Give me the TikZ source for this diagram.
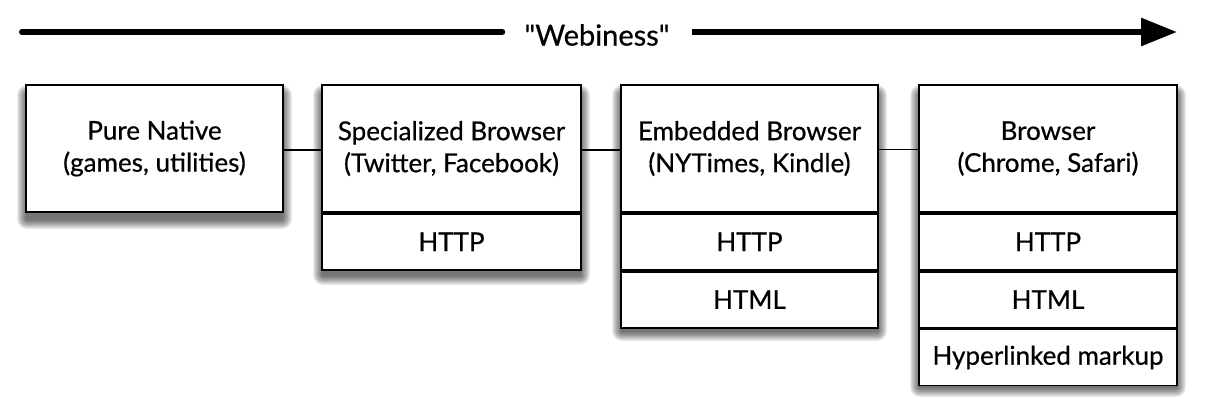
\documentclass[tikz,border=0pt]{standalone}
\usepackage{fontspec}
\setmainfont{Lato}[FakeBold=0.6]
\newfontfamily\quotefont{Lato}[FakeBold=0.6]
\usetikzlibrary{arrows.meta,positioning}
\begin{document}
\begin{tikzpicture}[x=1pt,y=-1pt,
  cell/.style={draw=black,line width=1.8pt,fill=white,minimum width=257pt,inner sep=0pt,
    font=\fontsize{26}{32}\selectfont,align=center},
  topcell/.style={cell,minimum height=127pt},
  subcell/.style={cell,minimum height=56pt},
  shadowlayer/.style={fill=black,fill opacity=0.075,draw=none},
  link/.style={draw=black,line width=1.4pt},
  bigarrow/.style={line width=6pt}
]
\useasboundingbox (0,0) rectangle (1220,412);
% arrow
\coordinate (as) at (22,32);
\coordinate (ae) at (1177,32);
\node[font=\quotefont\fontsize{29}{32}\selectfont,inner xsep=22pt,inner ysep=0pt] (w) at (597,35) {"Webiness"};
\draw[bigarrow,line cap=round] (as) -- (as -| w.west);
\draw[bigarrow,-{Triangle[length=36pt,width=27pt]}] (ae -| w.east) -- (ae);
% shadows (layered soft shadow)
\foreach \xa/\ya/\xb/\yb in {26/85/283/212, 322/85/581/268, 621/85/878/324, 919/85/1177/380}{
  \foreach \r in {1,...,10}{
    \fill[shadowlayer,rounded corners=\r pt] (\xa-\r+1,\ya+10-\r) rectangle (\xb+\r-1,\yb+7+\r);
  }
}
% column 1
\node[topcell] (n1) at (154.5,148.5) {Pure Native\\(games, utilities)};
% column 2
\node[topcell,minimum width=259pt] (n2) at (451.5,148.5) {Specialized Browser\\(Twitter, Facebook)};
\node[subcell,minimum width=259pt,below=0pt of n2] (n2a) {HTTP};
% column 3
\node[topcell] (n3) at (749.5,148.5) {Embedded Browser\\(NYTimes, Kindle)};
\node[subcell,below=0pt of n3] (n3a) {HTTP};
\node[subcell,below=0pt of n3a] (n3b) {HTML};
% column 4
\node[topcell,minimum width=258pt] (n4) at (1048,148.5) {Browser\\(Chrome, Safari)};
\node[subcell,minimum width=258pt,below=0pt of n4] (n4a) {HTTP};
\node[subcell,minimum width=258pt,below=0pt of n4a] (n4b) {HTML};
\node[subcell,minimum width=258pt,below=0pt of n4b] (n4c) {Hyperlinked markup};
% links
\draw[link] ([yshift=-1.5pt]n1.east) -- ([yshift=-1.5pt]n2.west);
\draw[link] ([yshift=-1.5pt]n2.east) -- ([yshift=-1.5pt]n3.west);
\draw[link] ([yshift=-1pt]n3.east) -- ([yshift=-1pt]n4.west);
\end{tikzpicture}
\end{document}
